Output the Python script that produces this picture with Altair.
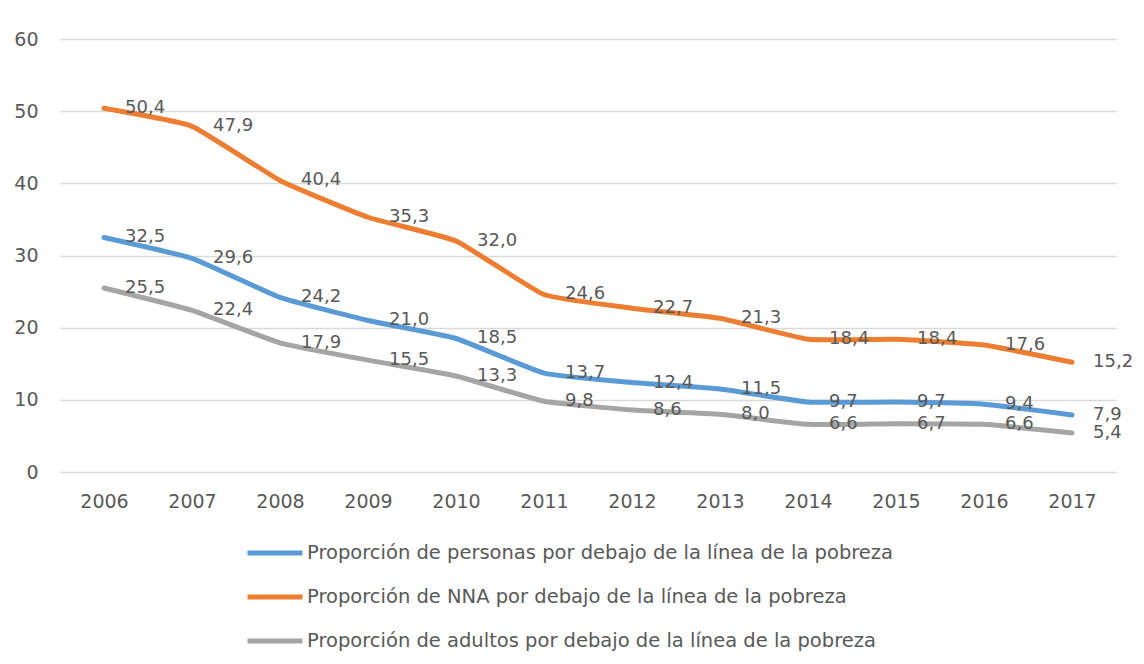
import altair as alt
import pandas as pd

years = [str(y) for y in range(2006, 2018)]
series_names = [
    "Proporción de personas por debajo de la línea de la pobreza",
    "Proporción de NNA por debajo de la línea de la pobreza",
    "Proporción de adultos por debajo de la línea de la pobreza",
]
personas = [32.5, 29.6, 24.2, 21.0, 18.5, 13.7, 12.4, 11.5, 9.7, 9.7, 9.4, 7.9]
nna = [50.4, 47.9, 40.4, 35.3, 32.0, 24.6, 22.7, 21.3, 18.4, 18.4, 17.6, 15.2]
adultos = [25.5, 22.4, 17.9, 15.5, 13.3, 9.8, 8.6, 8.0, 6.6, 6.7, 6.6, 5.4]
colors = ["#5B9BD5", "#ED7D31", "#A5A5A5"]

rows = []
for name, vals in zip(series_names, [personas, nna, adultos]):
    for y, v in zip(years, vals):
        rows.append({"year": y, "serie": name, "valor": v,
                     "etiqueta": f"{v:.1f}".replace(".", ",")})
df = pd.DataFrame(rows)

FONT = "DejaVu Sans"
TXT = "#595959"

x = alt.X("year:O", title=None, sort=years,
          scale=alt.Scale(paddingInner=0, paddingOuter=0.5),
          axis=alt.Axis(labelAngle=0, labelFontSize=19, labelColor=TXT, labelFont=FONT,
                        domain=False, ticks=False, grid=False, labelPadding=20))
y = alt.Y("valor:Q", title=None,
          scale=alt.Scale(domain=[0, 60]),
          axis=alt.Axis(values=[0, 10, 20, 30, 40, 50, 60], labelFontSize=19, labelColor=TXT,
                        labelFont=FONT, domain=False, ticks=False, labelPadding=22,
                        gridColor="#D9D9D9", gridWidth=1.5))
color = alt.Color("serie:N", sort=series_names, title=None,
                  scale=alt.Scale(domain=series_names, range=colors),
                  legend=alt.Legend(orient="none", legendX=185, legendY=484, direction="vertical",
                                    symbolType="stroke", symbolSize=3025, symbolStrokeWidth=5,
                                    labelFontSize=19.5, labelFont=FONT, labelColor=TXT,
                                    labelOffset=2, rowPadding=4, labelLimit=1000))

base = alt.Chart(df)
lines = base.mark_line(strokeWidth=5, interpolate="cardinal", tension=0.6,
                       strokeCap="round", strokeJoin="round").encode(x=x, y=y, color=color)
labels = base.mark_text(
    align="left", baseline="middle", dx=21, fontSize=18, font=FONT, color=TXT
).encode(x=x, y=y, text="etiqueta:N")

chart = alt.layer(lines, labels).properties(
    width=1056, height=433,
    autosize=alt.AutoSizeParams(type="none"),
    padding={"left": 52, "top": 31, "right": 20, "bottom": 184},
).configure(font=FONT, view=alt.ViewConfig(stroke=None))

chart.save("out.html", embed_options={"renderer": "svg", "actions": False})
